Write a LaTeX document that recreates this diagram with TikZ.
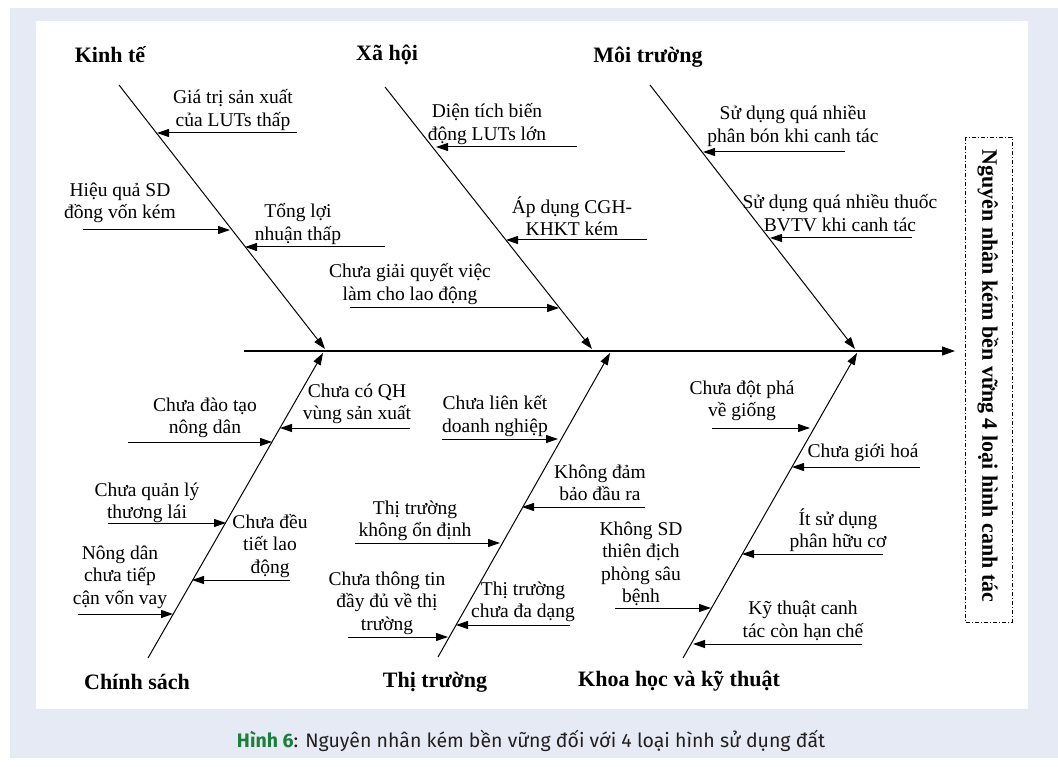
\documentclass[tikz,border=0pt]{standalone}
\usepackage{fontspec}
\setmainfont{Liberation Serif}
\newfontfamily\capfont{Fira Sans}
\usetikzlibrary{arrows.meta,calc}
\definecolor{panelblue}{HTML}{E6EAF5}
\definecolor{capgreen}{HTML}{1B7F3A}
\definecolor{capgray}{HTML}{231F20}
\tikzset{
  lbl/.style={align=center,inner sep=0pt,font=\fontsize{19.5}{22.5}\selectfont},
  cat/.style={inner sep=0pt,font=\fontsize{22}{24}\selectfont\bfseries},
  rib/.style={line width=1pt,-{Triangle[length=12pt,width=8pt]}},
  sub/.style={line width=1pt,-{Triangle[length=12pt,width=8pt]}},
  spine/.style={line width=1.1pt,-{Triangle[length=13pt,width=9pt]}},
}
\begin{document}
\begin{tikzpicture}[x=1pt,y=-1pt]
\useasboundingbox (0,0) rectangle (1058,767);
\fill[white] (0,0) rectangle (1058,767);
\fill[panelblue] (10,8) rectangle (1058,758);
\fill[white] (36,21) rectangle (1028,709);

% spine
\coordinate (sp0) at (244,351);
\coordinate (sp1) at (955,351);
\draw[spine] (sp0) -- (sp1);

% category labels
\node[cat] (ckt) at (110,55) {Kinh tế};
\node[cat] (cxh) at (387,55) {Xã hội};
\node[cat] (cmt) at (648,57) {Môi trường};
\node[cat] (ccs) at (137,682) {Chính sách};
\node[cat] (ctt) at (435,682) {Thị trường};
\node[cat] (ckh) at (679,681) {Khoa học và kỹ thuật};

% ribs
\coordinate (kt0) at (119,85);  \coordinate (kt1) at (325,349);
\coordinate (xh0) at (385,87);  \coordinate (xh1) at (592,349);
\coordinate (mt0) at (650,85);  \coordinate (mt1) at (855,349);
\coordinate (cs0) at (148,658); \coordinate (cs1) at (323,353);
\coordinate (tt0) at (438,657); \coordinate (tt1) at (610,353);
\coordinate (kh0) at (683,658); \coordinate (kh1) at (857,353);
\draw[rib] (kt0) -- (kt1);
\draw[rib] (xh0) -- (xh1);
\draw[rib] (mt0) -- (mt1);
\draw[rib] (cs0) -- (cs1);
\draw[rib] (tt0) -- (tt1);
\draw[rib] (kh0) -- (kh1);

% Kinh te
\node[lbl] (a1) at (233,110) {Giá trị sản xuất\\của LUTs thấp};
\coordinate (a1s) at (297,133); \coordinate (a1e) at (157,133);
\draw[sub] (a1s) -- (a1e);
\node[lbl] (a2) at (120,203) {Hiệu quả SD\\đồng vốn kém};
\coordinate (a2s) at (83,230); \coordinate (a2e) at (230,230);
\draw[sub] (a2s) -- (a2e);
\node[lbl] (a3) at (298,224) {Tổng lợi\\nhuận thấp};
\coordinate (a3s) at (385,247); \coordinate (a3e) at (245,247);
\draw[sub] (a3s) -- (a3e);

% Xa hoi
\node[lbl] (b1) at (487,124) {Diện tích biến\\động LUTs lớn};
\coordinate (b1s) at (577,147); \coordinate (b1e) at (436,147);
\draw[sub] (b1s) -- (b1e);
\node[lbl] (b2) at (572,216) {Áp dụng CGH-\\KHKT kém};
\coordinate (b2s) at (647,240); \coordinate (b2e) at (506,240);
\draw[sub] (b2s) -- (b2e);
\node[lbl] (b3) at (410,284) {Chưa giải quyết việc\\làm cho lao động};
\coordinate (b3s) at (350,308); \coordinate (b3e) at (559,308);
\draw[sub] (b3s) -- (b3e);

% Moi truong
\node[lbl] (c1) at (793,126) {Sử dụng quá nhiều\\phân bón khi canh tác};
\coordinate (c1s) at (845,152); \coordinate (c1e) at (703,152);
\draw[sub] (c1s) -- (c1e);
\node[lbl] (c2) at (840,213) {Sử dụng quá nhiều thuốc\\BVTV khi canh tác};
\coordinate (c2s) at (912,238); \coordinate (c2e) at (770,238);
\draw[sub] (c2s) -- (c2e);

% Chinh sach
\node[lbl] (d1) at (357,404) {Chưa có QH\\vùng sản xuất};
\coordinate (d1s) at (410,428); \coordinate (d1e) at (280,428);
\draw[sub] (d1s) -- (d1e);
\node[lbl] (d2) at (205,418) {Chưa đào tạo\\nông dân};
\coordinate (d2s) at (128,442); \coordinate (d2e) at (272,442);
\draw[sub] (d2s) -- (d2e);
\node[lbl] (d3) at (147,503) {Chưa quản lý\\thương lái};
\coordinate (d3s) at (108,523); \coordinate (d3e) at (226,523);
\draw[sub] (d3s) -- (d3e);
\node[lbl] (d4) at (270,546) {Chưa đều\\tiết lao\\động};
\coordinate (d4s) at (290,580); \coordinate (d4e) at (192,580);
\draw[sub] (d4s) -- (d4e);
\node[lbl] (d5) at (120,577) {Nông dân\\chưa tiếp\\cận vốn vay};
\coordinate (d5s) at (78,614); \coordinate (d5e) at (173,614);
\draw[sub] (d5s) -- (d5e);

% Thi truong
\node[lbl] (e1) at (495,416) {Chưa liên kết\\doanh nghiệp};
\coordinate (e1s) at (442,439); \coordinate (e1e) at (558,439);
\draw[sub] (e1s) -- (e1e);
\node[lbl] (e2) at (600,483) {Không đảm\\bảo đầu ra};
\coordinate (e2s) at (645,507); \coordinate (e2e) at (522,507);
\draw[sub] (e2s) -- (e2e);
\node[lbl] (e3) at (415,521) {Thị trường\\không ổn định};
\coordinate (e3s) at (355,543); \coordinate (e3e) at (500,543);
\draw[sub] (e3s) -- (e3e);
\node[lbl] (e4) at (387,603) {Chưa thông tin\\đầy đủ về thị\\trường};
\coordinate (e4s) at (348,637); \coordinate (e4e) at (448,637);
\draw[sub] (e4s) -- (e4e);
\node[lbl] (e5) at (523,602) {Thị trường\\chưa đa dạng};
\coordinate (e5s) at (570,625); \coordinate (e5e) at (456,625);
\draw[sub] (e5s) -- (e5e);

% Khoa hoc
\node[lbl] (f1) at (742,401) {Chưa đột phá\\về giống};
\coordinate (f1s) at (712,428); \coordinate (f1e) at (810,428);
\draw[sub] (f1s) -- (f1e);
\node[lbl] (f2) at (863,453) {Chưa giới hoá};
\coordinate (f2s) at (920,467); \coordinate (f2e) at (792,467);
\draw[sub] (f2s) -- (f2e);
\node[lbl] (f3) at (838,530) {Ít sử dụng\\phân hữu cơ};
\coordinate (f3s) at (883,554); \coordinate (f3e) at (742,554);
\draw[sub] (f3s) -- (f3e);
\node[lbl] (f4) at (641,564) {Không SD\\thiên địch\\phòng sâu\\bệnh};
\coordinate (f4s) at (615,608); \coordinate (f4e) at (711,608);
\draw[sub] (f4s) -- (f4e);
\node[lbl] (f5) at (803,621) {Kỹ thuật canh\\tác còn hạn chế};
\coordinate (f5s) at (862,644); \coordinate (f5e) at (693,644);
\draw[sub] (f5s) -- (f5e);

% effect box
\draw[line width=0.8pt,dash pattern=on 4pt off 2pt on 1pt off 2pt] (965,137) rectangle (1012,622);
\node[rotate=-90,inner sep=0pt,font=\fontsize{22}{24}\selectfont\bfseries] (eff) at (988,376) {Nguyên nhân kém bền vững 4 loại hình canh tác};

% caption
\node[inner sep=0pt,font=\capfont\fontsize{19.5}{22}\selectfont,text=capgray] (cap) at (531,741) {\textcolor{capgreen}{\bfseries Hình 6}: Nguyên nhân kém bền vững đối với 4 loại hình sử dụng đất};
\end{tikzpicture}
\end{document}
